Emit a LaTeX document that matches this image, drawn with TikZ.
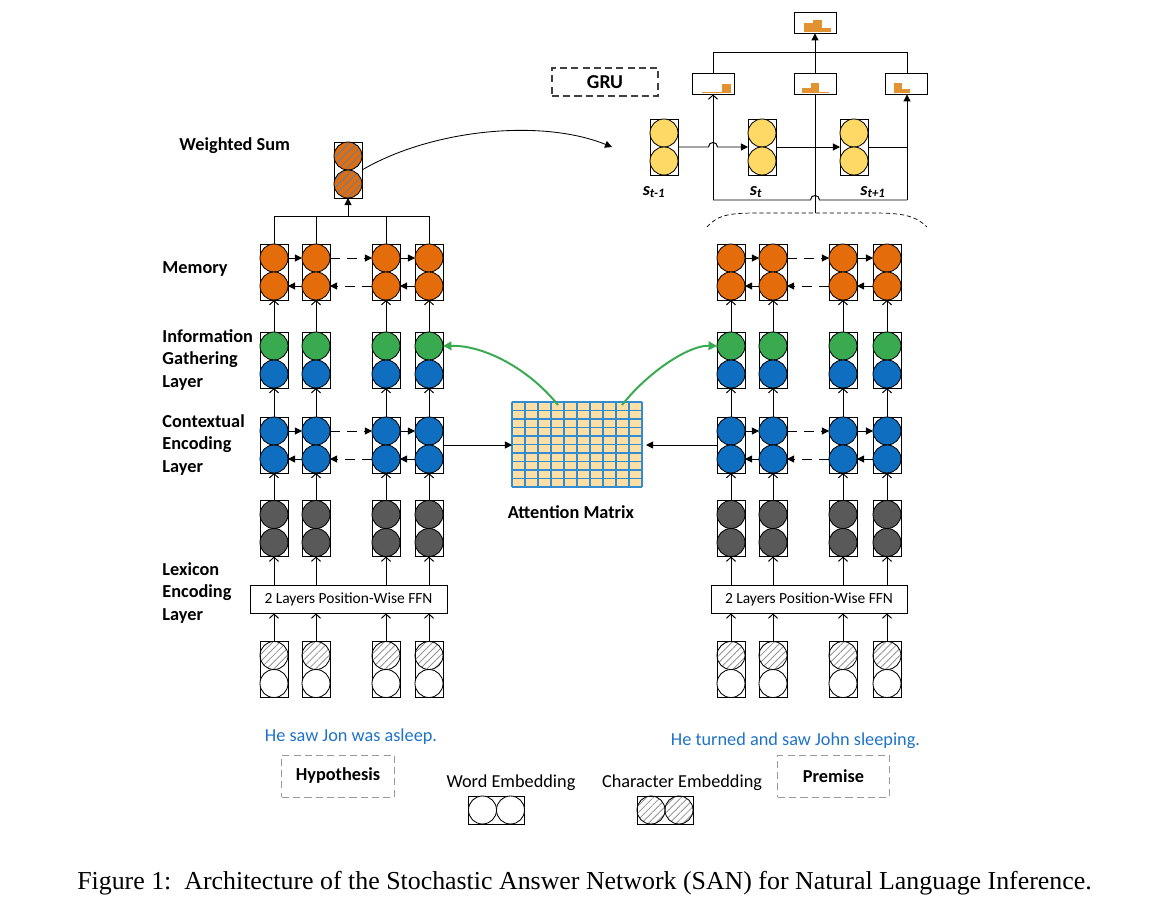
\documentclass[tikz,border=0pt]{standalone}
\usepackage{fontspec}
\setmainfont{Carlito}
\newfontfamily\captionfont{Liberation Serif}
\usepackage{xcolor}
\definecolor{memorange}{RGB}{228,108,10}
\definecolor{encblue}{RGB}{15,110,192}
\definecolor{gathgreen}{RGB}{58,170,80}
\definecolor{lexgray}{RGB}{89,89,89}
\definecolor{stateyellow}{RGB}{255,217,102}
\definecolor{distorange}{RGB}{226,146,48}
\definecolor{matfill}{RGB}{253,222,164}
\definecolor{matline}{RGB}{50,140,210}
\definecolor{sentblue}{RGB}{30,115,200}
\definecolor{hatchblue}{RGB}{95,130,165}
\usepackage{tikz}
\usetikzlibrary{arrows.meta, calc, patterns.meta}

\tikzset{
  cellbox/.style={draw, line width=0.6pt, minimum width=0.7cm, minimum height=1.4cm, inner sep=0pt, outer sep=0pt},
  ball/.style={circle, draw, line width=0.6pt, minimum size=0.7cm, inner sep=0pt, outer sep=0pt},
  memball/.style={ball, fill=memorange},
  blueball/.style={ball, fill=encblue},
  greenball/.style={ball, fill=gathgreen},
  grayball/.style={ball, fill=lexgray},
  yellowball/.style={ball, fill=stateyellow},
  whiteball/.style={ball, fill=white},
  hatchball/.style={ball, pattern={Lines[angle=45,distance=3.5pt,line width=0.6pt]}, pattern color=gray!85},
  wsball/.style={ball, preaction={fill=memorange}, pattern={Lines[angle=45,distance=3.8pt,line width=0.7pt]}, pattern color=hatchblue},
  uparrow/.style={-{Straight Barb[length=3pt,width=6.5pt]}},
  triarrow/.style={-{Triangle[length=5pt,width=5pt]}},
  dashline/.style={dash pattern=on 7pt off 5pt},
  greenarrow/.style={gathgreen, line width=1.4pt, -{Triangle[length=6pt,width=6pt]}},
  lab/.style={font=\fontsize{13}{16}\selectfont\bfseries, align=left, inner sep=0pt},
  plainlab/.style={font=\fontsize{13}{16}\selectfont, inner sep=0pt},
  ffnbox/.style={draw, line width=0.6pt, minimum height=0.7cm, inner sep=0pt, font=\fontsize{11}{13}\selectfont},
  tagbox/.style={draw=gray!80, dash pattern=on 5pt off 3pt, minimum width=2.8cm, minimum height=1.05cm, font=\fontsize{13}{16}\selectfont\bfseries},
  distbox/.style={draw, line width=0.6pt, minimum width=1.05cm, minimum height=0.525cm, inner sep=0pt},
  statelab/.style={font=\fontsize{13}{16}\selectfont\bfseries\itshape, inner sep=0pt}
}

% one column cell: box with two circles
\newcommand{\cellpair}[5]{%
  \node[cellbox] (#1) at (#2,#3) {};
  \node[#4] (#1t) at (#2,#3-14) {};
  \node[#5] (#1b) at (#2,#3+14) {};
}

\begin{document}
\begin{tikzpicture}[x=0.025cm, y=-0.025cm, line width=0.7pt]
\useasboundingbox (0,0) rectangle (1167,908);

% hypothesis side
\foreach \i/\x in {1/274,2/316,3/386,4/429} {
  \cellpair{hm\i}{\x}{272}{memball}{memball}
  \cellpair{hg\i}{\x}{360}{greenball}{blueball}
  \cellpair{hc\i}{\x}{445}{blueball}{blueball}
  \cellpair{hl\i}{\x}{528.5}{grayball}{grayball}
  \cellpair{he\i}{\x}{669.5}{hatchball}{whiteball}
}
\node[ffnbox, minimum width=4.925cm] (hffn) at (348.5,599) {2 Layers Position-Wise FFN};

% premise side
\foreach \i/\x in {1/731,2/773,3/843,4/887} {
  \cellpair{pm\i}{\x}{272}{memball}{memball}
  \cellpair{pg\i}{\x}{360}{greenball}{blueball}
  \cellpair{pc\i}{\x}{445}{blueball}{blueball}
  \cellpair{pl\i}{\x}{528.5}{grayball}{grayball}
  \cellpair{pe\i}{\x}{669.5}{hatchball}{whiteball}
}
\node[ffnbox, minimum width=4.9cm] (pffn) at (809,599) {2 Layers Position-Wise FFN};

% layers going up
\foreach \s in {h,p} {
  \foreach \i in {1,...,4} {
    \draw[uparrow] (\s e\i.north) -- (\s e\i.north |- \s ffn.south);
    \draw[uparrow] (\s l\i.south |- \s ffn.north) -- (\s l\i.south);
    \draw[uparrow] (\s l\i.north) -- (\s c\i.south);
    \draw[uparrow] (\s c\i.north) -- (\s g\i.south);
    \draw[uparrow] (\s g\i.north) -- (\s m\i.south);
  }
  % both directions in contextual layer and memory
  \foreach \r in {c,m} {
    \draw[triarrow] (\s\r1t.east) -- (\s\r2t.west);
    \draw[triarrow, dashline] (\s\r2t.east) -- (\s\r3t.west);
    \draw[triarrow] (\s\r3t.east) -- (\s\r4t.west);
    \draw[triarrow] (\s\r2b.west) -- (\s\r1b.east);
    \draw[triarrow, dashline] (\s\r3b.west) -- (\s\r2b.east);
    \draw[triarrow] (\s\r4b.west) -- (\s\r3b.east);
  }
}

% attention matrix
\node[minimum width=3.25cm, minimum height=2.125cm, inner sep=0pt, outer sep=0pt] (attn) at (577,444.5) {};
\fill[matfill] (attn.north west) rectangle (attn.south east);
\foreach \k in {0,...,10} {
  \draw[matline, line width=0.8pt] ($(attn.north west)+(13*\k,0)$) -- ($(attn.south west)+(13*\k,0)$);
  \draw[matline, line width=0.8pt] ($(attn.north west)+(0,8.5*\k)$) -- ($(attn.north east)+(0,8.5*\k)$);
}
\node[lab] (attnlab) at (571,512) {Attention Matrix};
\draw[triarrow] (hc4.east) -- (hc4.east -| attn.west);
\draw[triarrow] (pc1.west) -- ($(pc1.west -| attn.east)+(4,0)$);
\coordinate (attnh) at (558,405);
\coordinate (attnp) at (622,405);
\draw[greenarrow] (attnh) .. controls (530,370) and (485,345) .. (hg4t.east);
\draw[greenarrow] (attnp) .. controls (650,370) and (690,345) .. (pg1t.west);

% weighted sum
\cellpair{ws}{348}{170}{wsball}{wsball}
\coordinate (wsjoin) at (348,216);
\draw (hm1.north) -- (hm1.north |- wsjoin) -- (hm4.north |- wsjoin) -- (hm4.north);
\draw (hm2.north) -- (hm2.north |- wsjoin);
\draw (hm3.north) -- (hm3.north |- wsjoin);
\draw[triarrow] (wsjoin) -- (ws.south);

% layer labels
\node[lab, anchor=west] (wslab) at (179,146) {Weighted Sum};
\node[lab, anchor=west] (memlab) at (162,269) {Memory};
\node[lab, anchor=west] (gathlab) at (162,360) {Information\\Gathering\\Layer};
\node[lab, anchor=west] (ctxlab) at (162,445) {Contextual\\Encoding\\Layer};
\node[lab, anchor=west] (lexlab) at (162,593) {Lexicon\\Encoding\\Layer};

% answer module
\node[draw=black!75, dash pattern=on 5pt off 3pt, line width=0.8pt, minimum width=2.65cm, minimum height=0.7cm, font=\fontsize{14}{16}\selectfont\bfseries] (gru) at (605,82) {GRU};
\cellpair{sprev}{664}{147}{yellowball}{yellowball}
\cellpair{scur}{762}{147}{yellowball}{yellowball}
\cellpair{snext}{854}{147}{yellowball}{yellowball}
\node[statelab] (sprevlab) at (654,192) {s\textsubscript{t-1}};
\node[statelab] (scurlab) at (756,192) {s\textsubscript{t}};
\node[statelab] (snextlab) at (873,192) {s\textsubscript{t+1}};

\node[distbox] (dl) at (713,83.5) {};
\node[distbox] (dm) at (815,83.5) {};
\node[distbox] (dr) at (906.5,83.5) {};
\node[distbox] (dtop) at (815,22.5) {};
\fill[distorange] (702,91.5) rectangle (722,93);
\fill[distorange] (722,84) rectangle (731,93);
\fill[distorange] (802,88) rectangle (811,93);
\fill[distorange] (811,83) rectangle (819,93);
\fill[distorange] (819,91.5) rectangle (829,93);
\fill[distorange] (894,83) rectangle (902,93);
\fill[distorange] (902,89) rectangle (910,93);
\fill[distorange] (804,23) rectangle (813,32);
\fill[distorange] (813,20) rectangle (822,32);
\fill[distorange] (822,28) rectangle (831,32);

\coordinate (busl) at (713,200);
\coordinate (busr) at (907,200);
\coordinate (topbus) at (815,52);
\coordinate (memtop) at (815,213);
\draw (busl) -- (810.5,200) .. controls (810.5,194) and (819.5,194) .. (819.5,200) -- (busr);
\draw[uparrow] (busl) -- (dl.south);
\draw[triarrow] (busr) -- (busr |- dr.south);
\draw (memtop) -- (dm.south);
\draw[triarrow] (sprev.east) -- (708.5,147) .. controls (708.5,141) and (717.5,141) .. (717.5,147) -- (scur.west);
\draw[triarrow] (scur.east) -- (snext.west);
\draw (snext.east) -- (snext.east -| busr);
\draw (dl.north) -- (dl.north |- topbus) -- (busr |- topbus) -- (busr |- dr.north);
\draw[triarrow] (dm.north) -- (dtop.south);
\draw[densely dashed, line width=0.5pt] (707,227) .. controls (718,214) and (732,213) .. (760,213) -- (870,213) .. controls (898,213) and (914,214) .. (927,227);

% weighted sum goes to the answer module
\coordinate (gruin) at (612,147);
\draw[triarrow, line width=0.6pt] (ws.east) .. controls (430,130) and (540,118) .. (gruin);

% inputs and legend
\node[plainlab, text=sentblue] (hsent) at (351,737) {He saw Jon was asleep.};
\node[tagbox] (hyp) at (338,776) {Hypothesis};
\node[plainlab, text=sentblue] (psent) at (795.5,741) {He turned and saw John sleeping.};
\node[tagbox, minimum width=2.775cm] (prem) at (833.5,776) {Premise};
\node[plainlab] (wordlab) at (511,783) {Word Embedding};
\node[plainlab] (charlab) at (682,783) {Character Embedding};
\node[draw, line width=0.6pt, minimum width=1.4cm, minimum height=0.7cm, inner sep=0pt] (wordleg) at (496.5,810) {};
\node[whiteball] (wordlega) at (482.5,810) {};
\node[whiteball] (wordlegb) at (510.5,810) {};
\node[draw, line width=0.6pt, minimum width=1.4cm, minimum height=0.7cm, inner sep=0pt] (charleg) at (665,810) {};
\node[hatchball] (charlega) at (651,810) {};
\node[hatchball] (charlegb) at (679,810) {};

\node[font=\captionfont\fontsize{18.4}{21}\selectfont, inner sep=0pt] (caption) at (584.5,883) {Figure 1:\ \ Architecture of the Stochastic Answer Network (SAN) for Natural Language Inference.};
\end{tikzpicture}
\end{document}
